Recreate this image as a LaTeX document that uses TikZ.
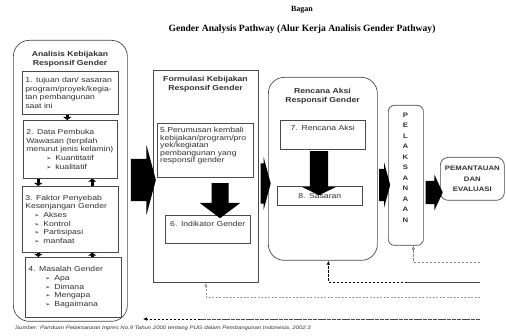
\documentclass[tikz,border=0pt]{standalone}
\usepackage{fontspec}
\setmainfont{Liberation Sans}[FakeStretch=1.2]
\newfontfamily\titlefont{Liberation Serif}
\newfontfamily\symfont{DejaVu Sans}
\usetikzlibrary{shapes.arrows,arrows.meta}

\definecolor{linec}{HTML}{4A4A4A}
\definecolor{txtc}{HTML}{303030}
\newcommand{\itm}[2]{\hspace*{#1}{\symfont\fontsize{6}{5}\selectfont ➢}\hspace{4pt}#2}

\tikzset{
  box/.style={draw=linec, line width=0.6pt, anchor=north west, inner sep=3pt, align=left, text=txtc, font=\fontsize{7.2}{8.7}\selectfont},
  frame/.style={draw=linec, line width=0.7pt, anchor=north west, inner sep=0pt},
  head/.style={font=\bfseries\fontsize{7.2}{9.5}\selectfont, align=center, text=txtc},
  blockarr/.style={single arrow, fill=black, inner xsep=0pt, outer sep=0pt},
  smallarr/.style={line width=2.4pt, -{Triangle[width=8pt,length=3pt]}},
  fback/.style={draw=linec, line width=0.5pt, dash pattern=on 2.5pt off 1.5pt, -{Latex[length=4pt,width=3.5pt]}},
}

\begin{document}
\begin{tikzpicture}[x=1pt,y=-1pt]
\useasboundingbox (0,0) rectangle (506,336);

% title
\node[font=\titlefont\bfseries\fontsize{8}{9}\selectfont] (bagan) at (302,10) {Bagan};
\node[font=\titlefont\bfseries\fontsize{9.6}{10}\selectfont] (gap) at (302,29) {Gender Analysis Pathway (Alur Kerja Analisis Gender Pathway)};

% frames
\node[frame, rounded corners=16pt, minimum width=114pt, minimum height=281pt] (ana) at (13,40) {};
\node[frame, minimum width=105pt, minimum height=212pt] (form) at (153,70) {};
\node[frame, rounded corners=16pt, minimum width=109pt, minimum height=183pt] (ren) at (268,77) {};
\node[frame, rounded corners=6pt, minimum width=35pt, minimum height=140pt] (pel) at (388,105) {};
\node[frame, rounded corners=8pt, minimum width=64pt, minimum height=43pt, font=\bfseries\fontsize{6.5}{10.5}\selectfont, align=center, text=txtc] (pem) at (440,157) {PEMANTAUAN\\DAN\\EVALUASI};

\node[head] (anat) at (70,59) {Analisis Kebijakan\\Responsif Gender};
\node[head] (formt) at (205.5,84) {Formulasi Kebijakan\\Responsif Gender};
\node[head] (rent) at (322.5,96) {Rencana Aksi\\Responsif Gender};
\node[font=\bfseries\fontsize{6.5}{10.5}\selectfont, align=center, text=txtc] (pelt) at (405.5,167.5) {P\\E\\L\\A\\K\\S\\A\\N\\A\\A\\N};

% boxes
\node[box, text width=90pt, minimum height=43pt] (b1) at (22,71) {1. tujuan dan/ sasaran\\program/proyek/kegia-\\tan pembangunan\\saat ini};
\node[box, text width=88pt, minimum height=58pt] (b2) at (23,120) {2. Data Pembuka\\Wawasan (terpilah\\menurut jenis kelamin)\\\itm{20pt}{Kuantitatif}\\\itm{20pt}{kualitatif}};
\node[box, text width=90pt, minimum height=66pt] (b3) at (22,186) {3. Faktor Penyebab\\Kesenjangan Gender\\\itm{9pt}{Akses}\\\itm{9pt}{Kontrol}\\\itm{9pt}{Partisipasi}\\\itm{9pt}{manfaat}};
\node[box, text width=90pt, minimum height=60pt] (b4) at (25,257) {4. Masalah Gender\\\itm{17pt}{Apa}\\\itm{17pt}{Dimana}\\\itm{17pt}{Mengapa}\\\itm{17pt}{Bagaimana}};
\node[frame, line width=0.6pt, minimum width=96pt, minimum height=54pt] (b5) at (157,123) {};
\node[anchor=north west, inner sep=0pt, text width=90pt, align=left, text=txtc, font=\fontsize{7.2}{7.6}\selectfont] (b5t) at ([xshift=3pt,yshift=-4pt]b5.north west) {5.Perumusan kembali\\kebijakan/program/pro\\yek/kegiatan\\pembangunan yang\\responsif gender};
\node[box, text width=79pt, align=center, text height=8.5pt, text depth=13.5pt] (b6) at (165,215) {6. Indikator Gender};
\node[box, text width=79pt, align=center, text height=7.5pt, text depth=15.5pt] (b7) at (280,120) {7. Rencana Aksi};
\node[box, text width=79pt, align=center, minimum height=19pt] (b8) at (277,186) {8. Sasaran};

% small arrows
\draw[smallarr] ([xshift=-3pt]b1.south) -- ([xshift=-3pt]b1.south |- b2.north);
\draw[smallarr] ([xshift=-32pt]b2.south) -- ([xshift=-32pt]b3.north);
\draw[smallarr] ([xshift=22pt]b3.north) -- ([xshift=22pt]b2.south);
\draw[smallarr] ([xshift=-32pt]b3.south) -- ([xshift=-35pt]b4.north);
\draw[smallarr] ([xshift=19pt]b4.north) -- ([xshift=22pt]b3.south);

% block arrows
\node[blockarr, inner ysep=21pt, minimum height=25pt, minimum width=70pt, single arrow head extend=14pt, single arrow tip angle=150] (a1) at (140.5,180) {};
\node[blockarr, inner ysep=20pt, minimum height=10pt, minimum width=53pt, single arrow head extend=6.5pt, single arrow tip angle=150] (a2) at (263,183.5) {};
\node[blockarr, inner ysep=16pt, minimum height=11pt, minimum width=45pt, single arrow head extend=6.5pt, single arrow tip angle=150] (a3) at (382.5,185) {};
\node[blockarr, inner ysep=11.5pt, minimum height=17pt, minimum width=35pt, single arrow head extend=6pt, single arrow tip angle=130] (a4) at (431.5,192.5) {};
\node[blockarr, rotate=-90, inner ysep=8.3pt, minimum height=35pt, minimum width=40pt, single arrow head extend=11.7pt, single arrow tip angle=106] (a5) at (220,197.5) {};
\node[blockarr, rotate=-90, inner ysep=9pt, minimum height=44pt, minimum width=33pt, single arrow head extend=7.5pt, single arrow tip angle=128] (a6) at (319,171) {};

% feedback lines
\coordinate (fb1) at (480,262);
\coordinate (fb2) at (480,282);
\coordinate (fb2m) at (407,282);
\coordinate (fb3) at (480,297);
\coordinate (fb4) at (480,319);
\coordinate (fb4m) at (200,319);
\coordinate (fb4e) at (143,319);
\draw[fback, draw=gray] (fb1) -| ([xshift=7.5pt]pel.south);
\draw[linec, line width=0.7pt] (fb2) -- (fb2m);
\draw[fback, line width=0.7pt, draw=black] (fb2m) -| ([xshift=5.5pt]ren.south);
\draw[fback, draw=gray!80, dash pattern=on 2pt off 1.5pt] (fb3) -| (form.south);
\draw[linec, line width=0.7pt, dash pattern=on 4pt off 0.8pt] (fb4) -- (fb4m);
\draw[fback, line width=0.6pt, draw=black] (fb4m) -- (fb4e);

% source
\node[anchor=west, font=\itshape\fontsize{5}{6}\selectfont, text=txtc, inner sep=0pt] (src) at (15,328) {Sumber: Panduan Pelaksanaan Inpres No.9 Tahun 2000 tentang PUG dalam Pembangunan Indonesia, 2002:3};
\end{tikzpicture}
\end{document}
